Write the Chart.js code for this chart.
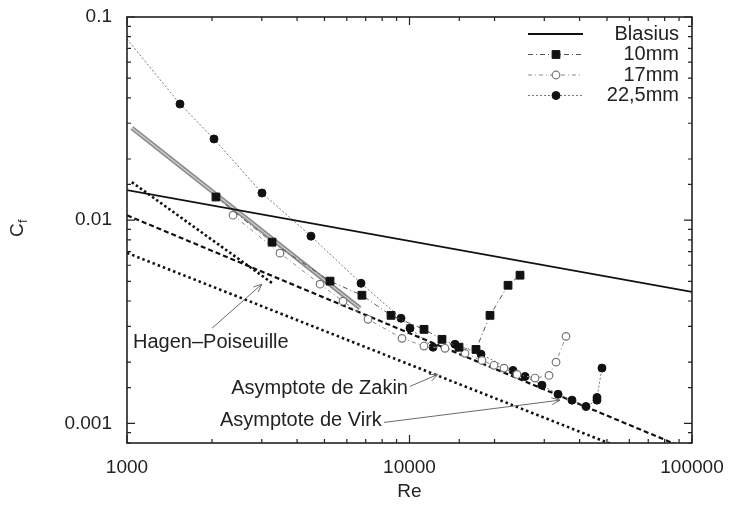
<!DOCTYPE html>
<html>
<head>
<meta charset="utf-8">
<script src="https://cdn.jsdelivr.net/npm/chart.js@4.4.0/dist/chart.umd.min.js"></script>
<style>
  body { margin: 0; background: #fff; }
  #wrap { width: 731px; height: 506px; }
</style>
</head>
<body>
<div id="wrap"><canvas id="cf"></canvas></div>
<script>
// measured points, Re / Cf
const re10 = [2065, 3262, 5231, 6787, 8602, 11254, 13032, 14970, 17195, 19275, 22325, 24617];
const cf10 = [0.0130, 0.00779, 0.00501, 0.00427, 0.00340, 0.00290, 0.00259, 0.00237, 0.00231, 0.00340, 0.00478, 0.00536];

const re17 = [2373, 3480, 4824, 5816, 7131, 9407, 11254, 13357, 15724, 18058, 19910, 21600, 24020, 27810, 31180, 33010, 35810];
const cf17 = [0.01058, 0.00688, 0.00484, 0.00399, 0.00325, 0.00262, 0.00240, 0.00234, 0.00221, 0.00204, 0.00193, 0.00187, 0.00174, 0.00167, 0.00172, 0.00200, 0.00268];

const re225 = [1000, 1540, 2032, 3005, 4480, 6735, 9331, 10040, 12115, 14493, 17910, 23250, 25640, 29440, 33560, 37600, 42150, 46100, 46100, 48010];
const cf225 = [0.0779, 0.0373, 0.0251, 0.0136, 0.00834, 0.00489, 0.00329, 0.00294, 0.00237, 0.00245, 0.00219, 0.00182, 0.00170, 0.00154, 0.00139, 0.00130, 0.00121, 0.00130, 0.00134, 0.00187];

// reference curves (end points)
const reBlasius = [1000, 100000];
const cfBlasius = [0.01405, 0.00444];
const reHagen = [1040, 3300];
const cfHagen = [0.01538, 0.00485];
const reGray = [1041, 6680];
const cfGray = [0.0284, 0.00369];
const reVirk = [1000, 100000];
const cfVirk = [0.01056, 0.00073];
const reZakin = [1000, 100000];
const cfZakin = [0.0069, 0.00055];

const xTickVals = [1000, 10000, 100000];
const xTickText = ['1000', '10000', '100000'];
const yTickVals = [0.001, 0.01, 0.1];
const yTickText = ['0.001', '0.01', '0.1'];

const notes = [
    { text: 'Hagen\u2013Poiseuille', at: [1050, 0.00250], align: 'left', from: [2000, 0.00294], to: [3003, 0.00484] },
    { text: 'Asymptote de Zakin', at: [9878, 0.00148], align: 'right', from: [10040, 0.00152], to: [12600, 0.00174] },
    { text: 'Asymptote de Virk', at: [7981, 0.00103], align: 'right', from: [8125, 0.00101], to: [34100, 0.0013] },
];

const pts = (xs, ys) => xs.map((x, i) => ({ x: x, y: ys[i] }));
const FONT = '"Liberation Sans", Arial, sans-serif';

function pickLabel(v, vals, text) {
    const i = vals.findIndex(t => Math.abs(Math.log10(v) - Math.log10(t)) < 1e-6);
    return i < 0 ? '' : text[i];
}

function marker(ctx, ds, x, y) {
    const style = ds.pointStyle || 'circle';
    let r = ds.pointRadius;
    if (Array.isArray(r)) r = r[r.length - 1];
    ctx.save();
    ctx.setLineDash([]);
    ctx.fillStyle = ds.pointBackgroundColor;
    ctx.strokeStyle = ds.pointBorderColor;
    ctx.lineWidth = ds.pointBorderWidth;
    ctx.beginPath();
    if (style === 'rect') {
        const s = r * Math.SQRT1_2;
        ctx.rect(x - s, y - s, 2 * s, 2 * s);
    } else {
        ctx.arc(x, y, r, 0, Math.PI * 2);
    }
    ctx.fill();
    ctx.stroke();
    ctx.restore();
}

const decor = {
    id: 'decor',
    afterDraw(chart) {
        const ctx = chart.ctx;
        const a = chart.chartArea;
        const xs = chart.scales.x, ys = chart.scales.y;

        // frame
        ctx.save();
        ctx.strokeStyle = '#222';
        ctx.lineWidth = 1.6;
        ctx.setLineDash([]);
        ctx.strokeRect(a.left, a.top, a.right - a.left, a.bottom - a.top);

        // inward ticks on all four sides
        ctx.lineWidth = 1.2;
        const isMajor = v => Math.abs(Math.log10(v) - Math.round(Math.log10(v))) < 1e-6;
        xs.ticks.forEach(t => {
            const p = xs.getPixelForValue(t.value);
            const l = isMajor(t.value) ? 8 : 4;
            ctx.beginPath();
            ctx.moveTo(p, a.bottom); ctx.lineTo(p, a.bottom - l);
            ctx.moveTo(p, a.top); ctx.lineTo(p, a.top + l);
            ctx.stroke();
        });
        ys.ticks.forEach(t => {
            const p = ys.getPixelForValue(t.value);
            const l = isMajor(t.value) ? 8 : 4;
            ctx.beginPath();
            ctx.moveTo(a.left, p); ctx.lineTo(a.left + l, p);
            ctx.moveTo(a.right, p); ctx.lineTo(a.right - l, p);
            ctx.stroke();
        });

        // axis titles
        ctx.fillStyle = '#222';
        ctx.font = '19px ' + FONT;
        ctx.textAlign = 'center';
        ctx.textBaseline = 'middle';
        ctx.fillText('Re', (a.left + a.right) / 2, 492);
        ctx.save();
        ctx.translate(18, 228);
        ctx.rotate(-Math.PI / 2);
        ctx.textAlign = 'left';
        ctx.fillText('C', -9, 0);
        ctx.font = '13px ' + FONT;
        ctx.fillText('f', 5, 5);
        ctx.restore();

        // legend
        const rows = [0, 1, 2, 3];
        ctx.font = '20px ' + FONT;
        ctx.textAlign = 'right';
        rows.forEach((di, k) => {
            const ds = chart.data.datasets[di];
            const y = 34 + k * 20.5;
            ctx.save();
            ctx.strokeStyle = ds.borderColor;
            ctx.lineWidth = ds.borderWidth;
            ctx.setLineDash(ds.borderDash || []);
            ctx.beginPath();
            ctx.moveTo(528, y); ctx.lineTo(583, y);
            ctx.stroke();
            ctx.restore();
            if (ds.pointRadius) marker(ctx, ds, 556, y);
            ctx.fillStyle = '#222';
            ctx.fillText(ds.label, 679, y);
        });

        // annotations
        notes.forEach(n => {
            const tx = xs.getPixelForValue(n.at[0]), ty = ys.getPixelForValue(n.at[1]);
            ctx.fillStyle = '#222';
            ctx.textAlign = n.align;
            ctx.fillText(n.text, tx, ty);
            const x0 = xs.getPixelForValue(n.from[0]), y0 = ys.getPixelForValue(n.from[1]);
            const x1 = xs.getPixelForValue(n.to[0]), y1 = ys.getPixelForValue(n.to[1]);
            ctx.strokeStyle = '#6a6a6a';
            ctx.lineWidth = 1;
            ctx.beginPath();
            ctx.moveTo(x0, y0); ctx.lineTo(x1, y1);
            const ang = Math.atan2(y1 - y0, x1 - x0);
            [0.4, -0.4].forEach(d => {
                ctx.moveTo(x1, y1);
                ctx.lineTo(x1 - 9 * Math.cos(ang + d), y1 - 9 * Math.sin(ang + d));
            });
            ctx.stroke();
        });
        ctx.restore();
    }
};

new Chart(document.getElementById('cf'), {
    type: 'scatter',
    data: {
        datasets: [
            {
                label: 'Blasius',
                data: pts(reBlasius, cfBlasius),
                showLine: true,
                borderColor: '#111',
                borderWidth: 1.8,
                pointRadius: 0,
            },
            {
                label: '10mm',
                data: pts(re10, cf10),
                showLine: true,
                borderColor: '#555',
                borderWidth: 1,
                borderDash: [5, 3, 1, 3],
                pointStyle: 'rect',
                pointRadius: 5.5,
                pointBackgroundColor: '#111',
                pointBorderColor: '#111',
                pointBorderWidth: 1,
            },
            {
                label: '17mm',
                data: pts(re17, cf17),
                showLine: true,
                borderColor: '#8a8a8a',
                borderWidth: 1,
                borderDash: [4, 3, 1, 3],
                pointStyle: 'circle',
                pointRadius: 3.8,
                pointBackgroundColor: '#fff',
                pointBorderColor: '#777',
                pointBorderWidth: 1.2,
            },
            {
                label: '22,5mm',
                data: pts(re225, cf225),
                showLine: true,
                borderColor: '#777',
                borderWidth: 1,
                borderDash: [2, 2],
                pointStyle: 'circle',
                pointRadius: re225.map((r, i) => i === 0 ? 0 : 4),
                pointBackgroundColor: '#111',
                pointBorderColor: '#111',
                pointBorderWidth: 1,
            },
            {
                label: 'gray-light',
                data: pts(reGray, cfGray),
                showLine: true,
                borderColor: '#d4d4d4',
                borderWidth: 1.2,
                pointRadius: 0,
            },
            {
                label: 'gray',
                data: pts(reGray, cfGray),
                showLine: true,
                borderColor: '#8c8c8c',
                borderWidth: 4.5,
                pointRadius: 0,
            },
            {
                label: 'Hagen-Poiseuille',
                data: pts(reHagen, cfHagen),
                showLine: true,
                borderColor: '#111',
                borderWidth: 2.6,
                borderDash: [2.5, 2.5],
                pointRadius: 0,
            },
            {
                label: 'Virk',
                data: pts(reVirk, cfVirk),
                showLine: true,
                borderColor: '#111',
                borderWidth: 2.2,
                borderDash: [5, 3],
                pointRadius: 0,
            },
            {
                label: 'Zakin',
                data: pts(reZakin, cfZakin),
                showLine: true,
                borderColor: '#111',
                borderWidth: 2.6,
                borderDash: [2.5, 3],
                pointRadius: 0,
            },
        ],
    },
    options: {
        responsive: true,
        maintainAspectRatio: false,
        animation: false,
        layout: { padding: { top: 17, right: 39, left: 0, bottom: 0 } },
        plugins: { legend: { display: false }, tooltip: { enabled: false } },
        scales: {
            x: {
                type: 'logarithmic',
                min: 1000,
                max: 100000,
                grid: { display: false, drawTicks: false },
                border: { display: false },
                afterFit: s => { s.height = 63; s.paddingLeft = 0; s.paddingRight = 0; },
                ticks: {
                    autoSkip: false,
                    maxRotation: 0,
                    padding: 13,
                    color: '#222',
                    font: { family: FONT, size: 19 },
                    callback: v => pickLabel(v, xTickVals, xTickText),
                },
            },
            y: {
                type: 'logarithmic',
                min: 0.0008,
                max: 0.1,
                grid: { display: false, drawTicks: false },
                border: { display: false },
                afterFit: s => { s.width = 127; s.paddingTop = 0; s.paddingBottom = 0; },
                ticks: {
                    autoSkip: false,
                    padding: 15,
                    color: '#222',
                    font: { family: FONT, size: 19 },
                    callback: v => pickLabel(v, yTickVals, yTickText),
                },
            },
        },
    },
    plugins: [decor],
});
</script>
</body>
</html>
